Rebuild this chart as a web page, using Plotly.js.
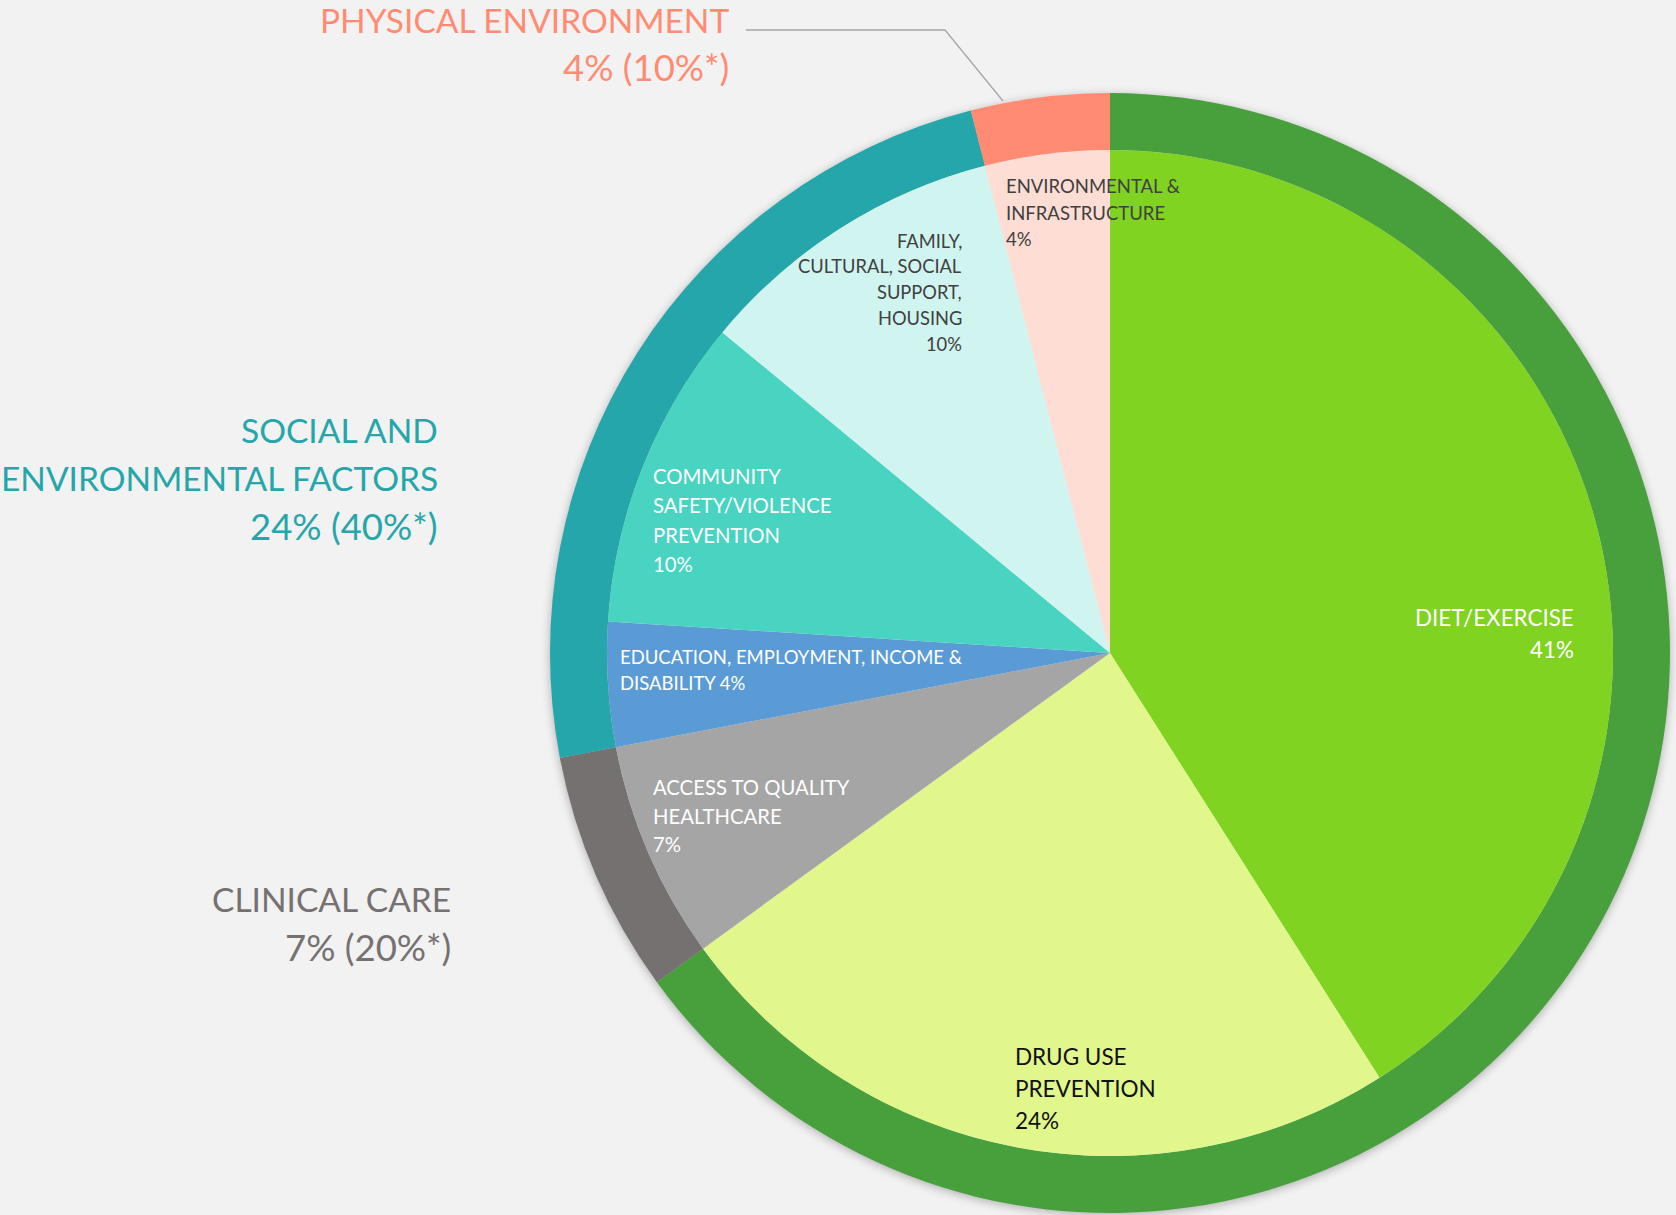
<!DOCTYPE html>
<html>
<head>
<meta charset="utf-8">
<script src="https://cdn.plot.ly/plotly-3.0.1.min.js"></script>
<style>
html, body { margin: 0; padding: 0; background: #F2F2F2; }
#chart { width: 1676px; height: 1215px; }
</style>
</head>
<body>
<div id="chart"></div>
<script>
// ---------------- DATA ----------------
const outerLabels = ['HEALTH BEHAVIORS', 'CLINICAL CARE', 'SOCIAL AND ENVIRONMENTAL FACTORS', 'PHYSICAL ENVIRONMENT'];
const outerValues = [65, 7, 24, 4];
const outerStarred = [null, 20, 40, 10];          // the "(xx%*)" figures
const outerLabelLines = [null, ['CLINICAL CARE'], ['SOCIAL AND', 'ENVIRONMENTAL FACTORS'], ['PHYSICAL ENVIRONMENT']];

const innerLabels = ['Diet/Exercise', 'Drug Use Prevention', 'Access to Quality Healthcare',
  'Education, Employment, Income & Disability', 'Community Safety/Violence Prevention',
  'Family, Cultural, Social Support, Housing', 'Environmental & Infrastructure'];
const innerValues = [41, 24, 7, 4, 10, 10, 4];
const innerLabelLines = [
  ['DIET/EXERCISE'],
  ['DRUG USE', 'PREVENTION'],
  ['ACCESS TO QUALITY', 'HEALTHCARE'],
  ['EDUCATION, EMPLOYMENT, INCOME &', 'DISABILITY'],
  ['COMMUNITY', 'SAFETY/VIOLENCE', 'PREVENTION'],
  ['FAMILY,', 'CULTURAL, SOCIAL', 'SUPPORT,', 'HOUSING'],
  ['ENVIRONMENTAL &', 'INFRASTRUCTURE']
];

// ---------------- STYLE / LAYOUT ----------------
const W = 1676, H = 1215;
const CX = 1110, CY = 653, R_OUT = 560, R_IN = 503;
const FONT = 'Lato, "Open Sans", sans-serif';

const outerColors = ['#48A03C', '#767171', '#25A6AB', '#FF8C72'];
const innerColors = ['#80D321', '#E1F78C', '#A5A5A5', '#5B9BD5', '#48D4C1', '#D0F4F0', '#FEDDD5'];

// label placement (pixel space): x anchor, first-line center y, line step, anchor side, size, colour
const outerLabelStyle = [
  null,
  { x: 453, y: 899, dy: 48, anchor: 'right', size: 33.5, pctSize: 36.5, color: '#767171' },
  { x: 440, y: 430, dy: 48, anchor: 'right', size: 33.5, pctSize: 36.5, color: '#25A6AB' },
  { x: 731, y: 20, dy: 47, anchor: 'right', size: 33.5, pctSize: 36.5, color: '#FF8C72' }
];
const innerLabelStyle = [
  { x: 1576, y: 617, dy: 32, anchor: 'right', size: 22.4, color: '#FFFFFF' },
  { x: 1013, y: 1056, dy: 32, anchor: 'left', size: 22.5, color: '#111111' },
  { x: 651, y: 787, dy: 28.7, anchor: 'left', size: 20.3, color: '#FFFFFF' },
  { x: 618, y: 657, dy: 25.5, anchor: 'left', size: 18.5, color: '#FFFFFF', inline: true },
  { x: 651, y: 476, dy: 29.4, anchor: 'left', size: 20.3, color: '#FFFFFF' },
  { x: 964, y: 240.5, dy: 25.8, anchor: 'right', size: 18.3, color: '#404040' },
  { x: 1004, y: 186, dy: 26.5, anchor: 'left', size: 18.5, color: '#404040' }
];

const px = x => x / W;
const py = y => 1 - y / H;

function domainFor(r) {
  return { x: [px(CX - r), px(CX + r)], y: [py(CY + r), py(CY - r)] };
}

const traces = [
  {
    type: 'pie', labels: outerLabels, values: outerValues, sort: false,
    direction: 'clockwise', rotation: 0, hole: R_IN / R_OUT,
    marker: { colors: outerColors, line: { width: 0 } },
    textinfo: 'none', hoverinfo: 'label+value', domain: domainFor(R_OUT), showlegend: false
  },
  {
    type: 'pie', labels: innerLabels, values: innerValues, sort: false,
    direction: 'clockwise', rotation: 0,
    marker: { colors: innerColors, line: { width: 0 } },
    textinfo: 'none', hoverinfo: 'label+value', domain: domainFor(R_IN), showlegend: false
  }
];

const annotations = [];
function addLines(lines, st, lastSize) {
  lines.forEach((t, i) => {
    const size = (lastSize && i === lines.length - 1) ? lastSize : st.size;
    annotations.push({
      xref: 'paper', yref: 'paper', x: px(st.x), y: py(st.y + i * st.dy),
      xanchor: st.anchor, yanchor: 'middle', showarrow: false, text: t,
      font: { family: FONT, size: size, color: st.color }
    });
  });
}
outerLabelLines.forEach((lines, i) => {
  if (!lines) return;
  const st = outerLabelStyle[i];
  addLines(lines.concat([`${outerValues[i]}% (${outerStarred[i]}%*)`]), st, st.pctSize);
});
innerLabelLines.forEach((lines, i) => {
  const st = innerLabelStyle[i];
  let all;
  if (st.inline) {
    all = lines.slice(0, -1).concat([lines[lines.length - 1] + ' ' + innerValues[i] + '%']);
  } else {
    all = lines.concat([innerValues[i] + '%']);
  }
  addLines(all, st);
});

const layout = {
  width: W, height: H,
  margin: { l: 0, r: 0, t: 0, b: 0 },
  paper_bgcolor: '#F2F2F2', plot_bgcolor: '#F2F2F2',
  showlegend: false,
  annotations: annotations,
  shapes: [{
    type: 'path', xref: 'paper', yref: 'paper',
    path: `M ${px(746)} ${py(30)} L ${px(945)} ${py(30)} L ${px(1003)} ${py(101)}`,
    line: { color: '#A6A6A6', width: 1.3 }
  }]
};

Plotly.newPlot('chart', traces, layout, { displayModeBar: false, staticPlot: true }).then(() => {
  const groups = document.querySelectorAll('.pielayer .trace');
  if (groups.length) {
    groups[0].style.filter = 'drop-shadow(0px 2px 5px rgba(0,0,0,0.28))';
  }
});
</script>
</body>
</html>
